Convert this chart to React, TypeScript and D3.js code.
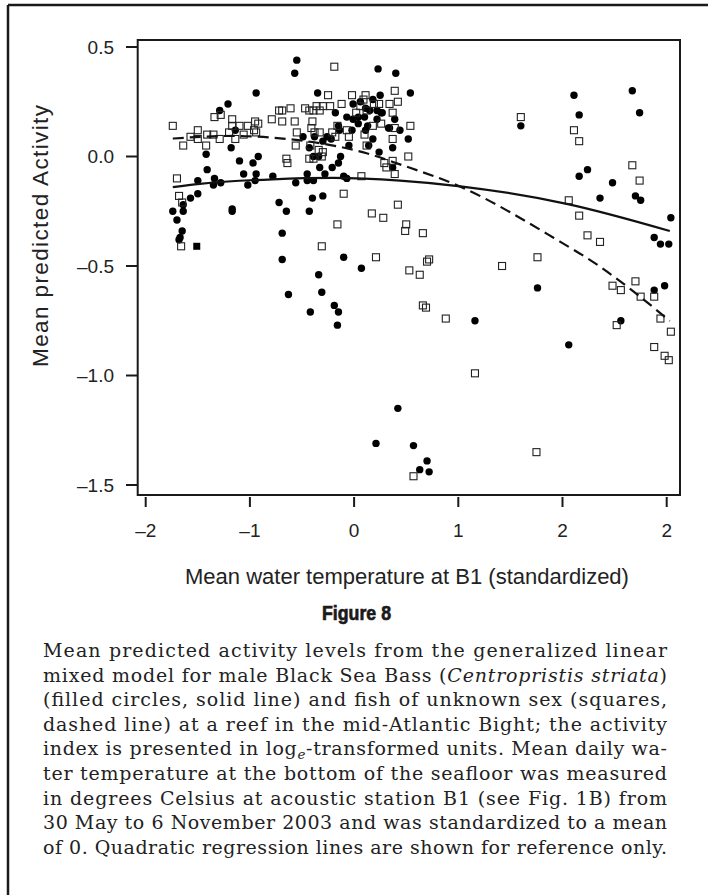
import React from "react";
import * as d3 from "d3";

// ---- Data ----
// Male Black Sea Bass: filled circles
const maleX = [-0.55,-0.57,-0.94,-1.21,-1.29,-1.14,-0.35,0.23,0.40,0.25,-1.18,-1.42,-1.10,-0.92,-0.97,-1.41,-1.06,-0.94,-1.34,-1.50,-1.35,-1.28,-1.02,-0.95,-0.78,-0.56,-0.45,-0.45,-0.39,-0.49,-0.43,-0.39,-0.34,-0.33,-0.28,-0.21,-0.15,-0.13,-0.05,-0.10,-0.07,-0.22,-0.26,-0.30,-0.38,-0.15,-0.18,-0.07,-0.01,0.04,0.11,0.14,0.18,0.24,0.37,0.33,0.39,0.22,0.15,0.11,0.06,-0.01,0.18,0.22,0.26,0.10,0.04,0.13,-0.14,-0.02,-1.50,-1.57,-1.64,-1.74,-1.64,-1.70,-1.65,-1.67,-1.68,-1.17,-1.17,-0.72,-0.65,-0.69,-0.43,-0.40,-0.30,-0.69,-0.10,0.07,-0.63,-0.34,-0.31,-0.42,-0.19,-0.15,-0.16,0.42,0.21,0.57,0.70,0.63,0.72,0.54,0.27,0.34,0.44,0.52,0.37,1.60,2.11,2.16,2.67,2.74,2.16,2.24,2.48,2.36,2.70,2.75,3.04,2.88,2.94,3.02,1.76,1.16,2.56,2.06,2.88,2.98];
const maleY = [0.44,0.38,0.29,0.24,0.21,0.12,0.29,0.40,0.38,0.28,0.04,0.01,-0.02,0.00,-0.03,-0.06,-0.08,-0.08,-0.10,-0.11,-0.13,-0.12,-0.13,-0.11,-0.09,-0.12,-0.08,-0.11,-0.11,0.09,0.04,0.00,0.00,-0.05,-0.08,-0.05,-0.03,0.00,0.05,-0.09,-0.10,0.08,0.09,0.07,0.09,0.14,0.20,0.18,0.17,0.15,0.12,0.05,0.08,0.02,0.04,0.13,0.17,0.17,0.21,0.22,0.25,0.24,0.26,0.21,0.20,0.18,0.18,0.14,0.12,0.12,-0.17,-0.19,-0.22,-0.25,-0.25,-0.29,-0.34,-0.37,-0.38,-0.24,-0.25,-0.21,-0.25,-0.35,-0.25,-0.19,-0.18,-0.47,-0.46,-0.51,-0.63,-0.54,-0.62,-0.71,-0.68,-0.71,-0.77,-1.15,-1.31,-1.32,-1.39,-1.43,-1.44,0.29,0.20,0.13,0.12,0.08,-0.05,0.14,0.28,0.19,0.30,0.20,-0.09,-0.06,-0.12,-0.19,-0.18,-0.20,-0.28,-0.37,-0.40,-0.40,-0.60,-0.75,-0.75,-0.86,-0.61,-0.59];

// Fish of unknown sex: open squares
const unknownX = [-1.74,-1.64,-1.57,-1.50,-1.50,-1.42,-1.41,-1.34,-1.28,-1.35,-1.29,-1.20,-1.17,-1.17,-1.14,-1.10,-1.06,-1.02,-0.95,-0.92,-0.96,-0.94,-0.79,-0.69,-0.72,-0.69,-0.61,-0.57,-0.55,-0.56,-0.65,-0.64,-0.47,-0.43,-0.39,-0.36,-0.33,-0.30,-0.23,-0.25,-0.19,-0.40,-0.41,-0.38,-0.33,-0.21,-0.18,-0.12,-0.07,-0.05,-0.42,-0.43,-0.39,-0.34,-0.31,-0.30,-0.16,-0.02,0.02,0.06,0.09,0.11,0.12,0.19,0.24,0.26,0.34,0.39,0.37,0.42,0.18,0.10,0.12,0.29,0.31,0.37,0.39,0.07,-1.70,-1.68,-1.65,-1.66,-0.10,0.17,0.28,-0.16,-0.31,0.42,0.21,0.39,0.54,0.52,0.37,0.50,0.49,0.66,1.60,2.11,2.16,2.67,2.74,2.06,2.16,2.24,2.36,0.53,0.63,0.70,0.72,1.42,1.76,0.66,0.69,0.88,1.16,2.48,2.56,2.70,2.75,2.88,2.94,2.52,3.04,2.88,2.98,3.02,1.75,0.57];
const unknownY = [0.14,0.05,0.09,0.12,0.08,0.05,0.10,0.18,0.19,0.10,0.08,0.11,0.17,0.14,0.08,0.14,0.10,0.14,0.16,0.15,0.12,0.11,0.17,0.16,0.21,0.21,0.22,0.16,0.11,0.05,-0.01,-0.03,0.22,0.21,0.21,0.23,0.21,0.23,0.23,0.28,0.41,0.16,0.13,0.11,0.11,0.11,0.09,0.24,0.12,0.09,0.05,-0.01,-0.01,0.03,0.00,0.02,0.14,0.28,0.20,0.23,0.26,0.28,0.21,0.24,0.24,0.15,0.24,0.30,0.20,0.25,0.14,0.10,0.05,-0.03,-0.05,0.08,-0.08,-0.09,-0.10,-0.18,-0.21,-0.41,-0.17,-0.26,-0.28,-0.31,-0.41,-0.22,-0.46,0.13,0.14,0.00,-0.02,-0.31,-0.34,-0.35,0.18,0.12,0.07,-0.04,-0.11,-0.20,-0.27,-0.36,-0.39,-0.52,-0.54,-0.48,-0.47,-0.50,-0.46,-0.68,-0.69,-0.74,-0.99,-0.59,-0.61,-0.57,-0.64,-0.64,-0.74,-0.77,-0.80,-0.87,-0.91,-0.93,-1.35,-1.46];

// A single filled square marker
const filledSquareX = [-1.51];
const filledSquareY = [-0.41];

// Quadratic regression lines
const solidLineX = [-1.74,-1.48,-0.78,-0.2,0.44,1.02,2.04,3.03];
const solidLineY = [-0.14,-0.125,-0.104,-0.098,-0.11,-0.136,-0.216,-0.34];
const dashedLineX = [-1.74,-1.16,-0.71,-0.2,0.12,0.44,1.02,1.91,2.36,2.68,3.03];
const dashedLineY = [0.082,0.094,0.083,0.05,0.015,-0.036,-0.138,-0.37,-0.503,-0.616,-0.751];

// Axes
const xTicks = [-2, -1, 0, 1, 2, 3];
const xTickLabels = ["\u20132", "\u20131", "0", "1", "2", "2"];
const yTicks = [0.5, 0, -0.5, -1, -1.5];
const yTickLabels = ["0.5", "0.0", "\u20130.5", "\u20131.0", "\u20131.5"];

const xTitle = "Mean water temperature at B1 (standardized)";
const yTitle = "Mean predicted Activity";
const figTitle = "Figure 8";

const W = 708;
const H = 895;
const INK = "#1a1a1a";
const SANS = "'Liberation Sans', Arial, Helvetica, sans-serif";
const SERIF = "'DejaVu Serif', 'Liberation Serif', serif";

export default function App() {
  const x = d3.scaleLinear().domain([-2, 3]).range([145.7, 666.7]);
  const y = d3.scaleLinear().domain([-1.5, 0.5]).range([485, 47]);

  const frame = { left: 137.7, top: 40, right: 680, bottom: 495 };

  const line = d3
    .line<[number, number]>()
    .x((d) => x(d[0]))
    .y((d) => y(d[1]))
    .curve(d3.curveMonotoneX);

  const solidPath = line(solidLineX.map((v, i) => [v, solidLineY[i]]) as [number, number][]) || "";
  const dashedPath = line(dashedLineX.map((v, i) => [v, dashedLineY[i]]) as [number, number][]) || "";

  const sq = 7;
  const capX = 43;
  const capW = 624;
  const capBase = 657;
  const capStep = 24.6;
  const capLines: React.ReactNode[] = [
    <>Mean predicted activity levels from the generalized linear</>,
    <>mixed model for male Black Sea Bass (<tspan fontStyle="italic">Centropristis striata</tspan>)</>,
    <>(filled circles, solid line) and fish of unknown sex (squares,</>,
    <>dashed line) at a reef in the mid-Atlantic Bight; the activity</>,
    <>index is presented in log<tspan fontStyle="italic" fontSize="13.5" dy="4">e</tspan><tspan dy="-4">-transformed units. Mean daily wa-</tspan></>,
    <>ter temperature at the bottom of the seafloor was measured</>,
    <>in degrees Celsius at acoustic station B1 (see Fig. 1B) from</>,
    <>30 May to 6 November 2003 and was standardized to a mean</>,
    <>of 0. Quadratic regression lines are shown for reference only.</>,
  ];

  return (
    <svg
      width={W}
      height={H}
      viewBox={`0 0 ${W} ${H}`}
      style={{ position: "absolute", left: 0, top: 0, background: "#fff" }}
    >
      <rect x={0} y={0} width={W} height={H} fill="#fff" />
      {/* outer border (left and top) */}
      <line x1={8} y1={5} x2={W} y2={5} stroke={INK} strokeWidth={2.5} />
      <line x1={8} y1={5} x2={8} y2={H} stroke={INK} strokeWidth={2.5} />

      {/* markers */}
      <g>
        {maleX.map((v, i) => (
          <circle key={"m" + i} cx={x(v)} cy={y(maleY[i])} r={3.7} fill="#000" />
        ))}
        {filledSquareX.map((v, i) => (
          <rect key={"f" + i} x={x(v) - sq / 2} y={y(filledSquareY[i]) - sq / 2} width={sq} height={sq} fill="#000" />
        ))}
        {unknownX.map((v, i) => (
          <rect
            key={"u" + i}
            x={x(v) - sq / 2}
            y={y(unknownY[i]) - sq / 2}
            width={sq}
            height={sq}
            fill="none"
            stroke="#222"
            strokeWidth={1.1}
          />
        ))}
      </g>

      {/* regression lines */}
      <path d={solidPath} fill="none" stroke="#111" strokeWidth={2.2} />
      <path d={dashedPath} fill="none" stroke="#111" strokeWidth={2.2} strokeDasharray="11,6" />

      {/* frame */}
      <rect
        x={frame.left}
        y={frame.top}
        width={frame.right - frame.left}
        height={frame.bottom - frame.top}
        fill="none"
        stroke={INK}
        strokeWidth={2}
      />

      {/* y axis */}
      {yTicks.map((t, i) => (
        <g key={"yt" + i}>
          <line x1={126} x2={frame.left} y1={y(t)} y2={y(t)} stroke={INK} strokeWidth={2} />
          <text
            x={114}
            y={y(t)}
            dy="0.36em"
            textAnchor="end"
            fontFamily={SANS}
            fontSize={19}
            fill="#222"
          >
            {yTickLabels[i]}
          </text>
        </g>
      ))}

      {/* x axis */}
      {xTicks.map((t, i) => (
        <g key={"xt" + i}>
          <line x1={x(t)} x2={x(t)} y1={497} y2={507} stroke={INK} strokeWidth={2} />
          <text x={x(t)} y={537} textAnchor="middle" fontFamily={SANS} fontSize={19} fill="#222">
            {xTickLabels[i]}
          </text>
        </g>
      ))}

      {/* axis titles */}
      <text x={407} y={584} textAnchor="middle" fontFamily={SANS} fontSize={22} fill="#222">
        {xTitle}
      </text>
      <text
        transform={`translate(48,236) rotate(-90)`}
        textAnchor="middle"
        fontFamily={SANS}
        fontSize={22.5}
        fill="#222"
        textLength={262}
        lengthAdjust="spacing"
      >
        {yTitle}
      </text>

      {/* figure title */}
      <text
        x={322}
        y={620}
        fontFamily={SANS}
        fontWeight="bold"
        fontSize={21}
        fill="#1a1a1a"
        stroke="#1a1a1a"
        strokeWidth={0.7}
        textLength={69}
        lengthAdjust="spacingAndGlyphs"
      >
        {figTitle}
      </text>

      {/* caption */}
      {capLines.map((c, i) => (
        <text
          key={"c" + i}
          x={capX}
          y={capBase + i * capStep}
          fontFamily={SERIF}
          fontSize={19}
          fill="#222"
          textLength={capW}
          lengthAdjust="spacing"
        >
          {c}
        </text>
      ))}
    </svg>
  );
}
